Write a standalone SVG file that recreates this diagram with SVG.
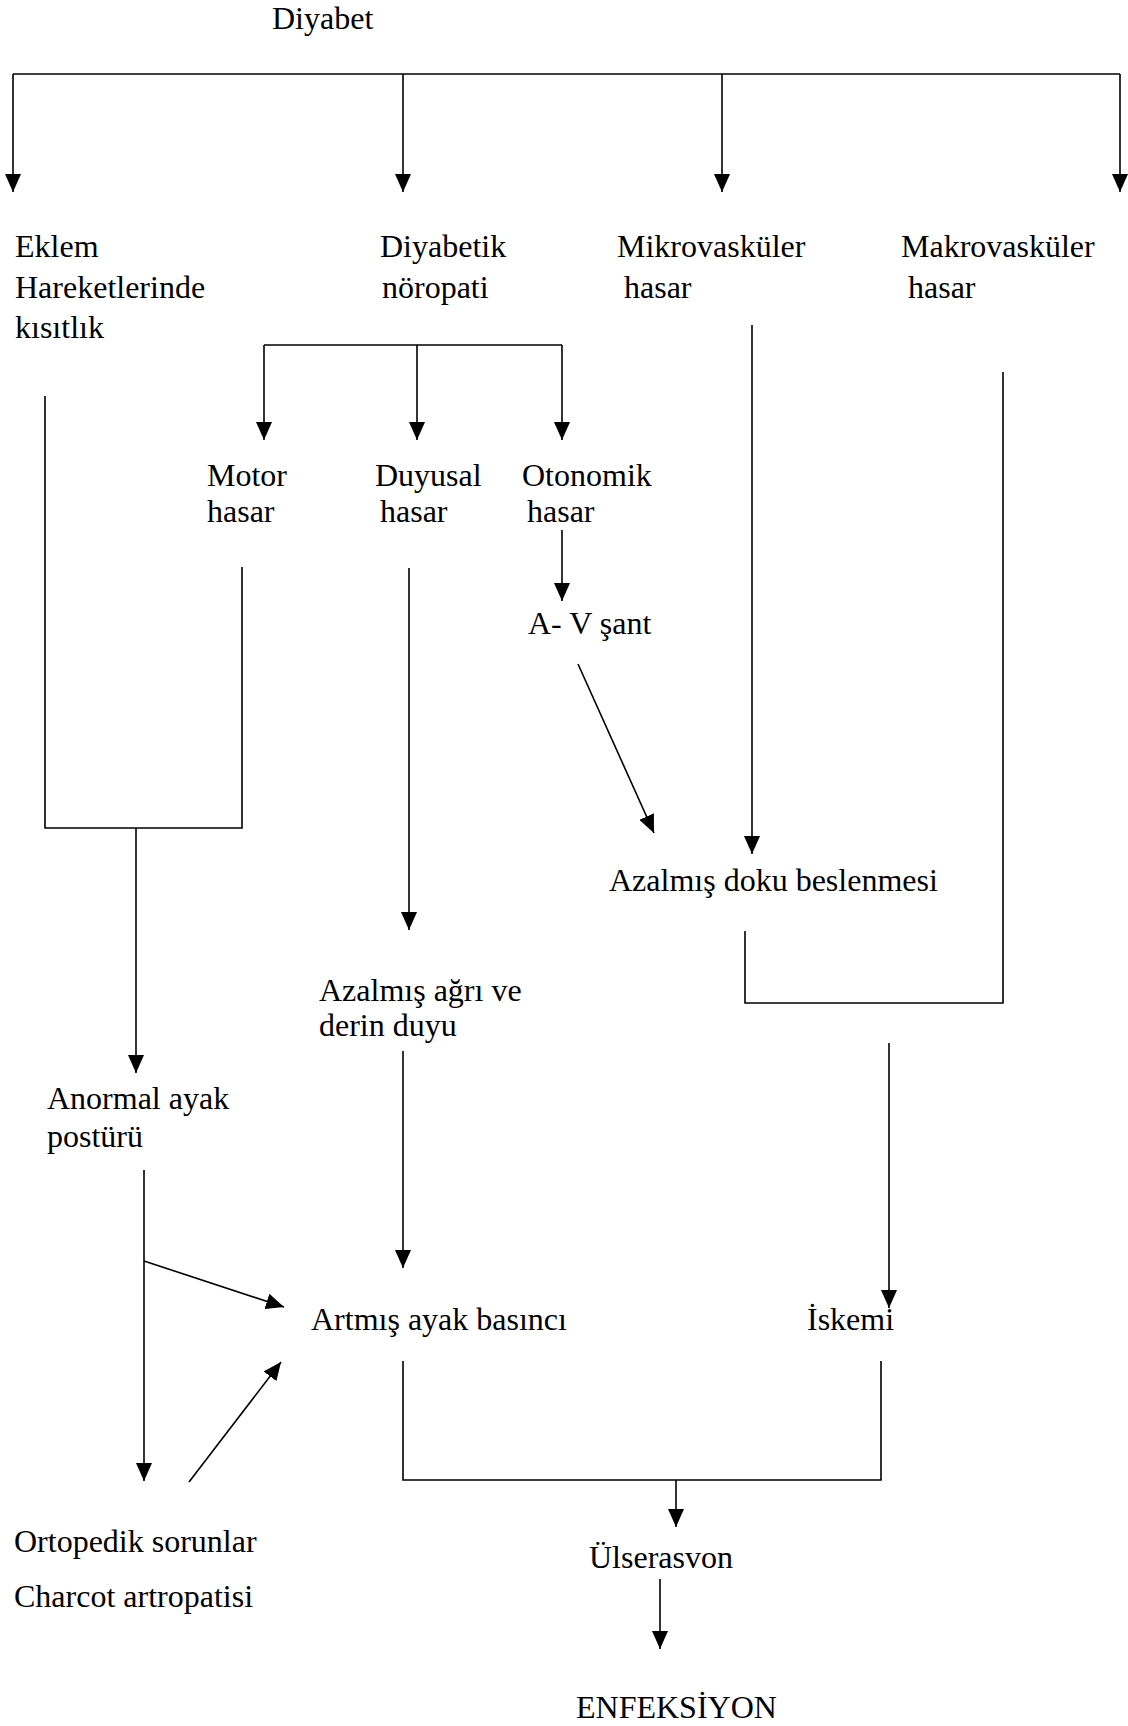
<svg xmlns="http://www.w3.org/2000/svg" width="1128" height="1726" viewBox="0 0 1128 1726">
<style>
text{font-family:"Liberation Serif","Times New Roman",serif;font-size:32px;fill:#000}
.c line,.c polyline{stroke:#000;stroke-width:1.6;fill:none}
</style>
<defs>
<marker id="ah" markerUnits="userSpaceOnUse" markerWidth="18" markerHeight="16" refX="18" refY="8" orient="auto">
<path d="M0,0 L18,8 L0,16 z" fill="#000"/>
</marker>
</defs>
<rect width="1128" height="1726" fill="#fff"/>
<g class="c" id="connectors">
<line x1="13" y1="74" x2="1120" y2="74"/>
<line x1="13" y1="74" x2="13" y2="192" marker-end="url(#ah)"/>
<line x1="403" y1="74" x2="403" y2="192" marker-end="url(#ah)"/>
<line x1="722" y1="74" x2="722" y2="192" marker-end="url(#ah)"/>
<line x1="1120" y1="74" x2="1120" y2="192" marker-end="url(#ah)"/>
<line x1="264" y1="345" x2="562" y2="345"/>
<line x1="264" y1="345" x2="264" y2="440" marker-end="url(#ah)"/>
<line x1="417" y1="345" x2="417" y2="440" marker-end="url(#ah)"/>
<line x1="562" y1="345" x2="562" y2="440" marker-end="url(#ah)"/>
<line x1="562" y1="530" x2="562" y2="601" marker-end="url(#ah)"/>
<line x1="578" y1="664" x2="654" y2="833" marker-end="url(#ah)"/>
<line x1="752" y1="325" x2="752" y2="854" marker-end="url(#ah)"/>
<line x1="409" y1="568" x2="409" y2="930" marker-end="url(#ah)"/>
<polyline points="45,396 45,828 242,828 242,567"/>
<line x1="136" y1="828" x2="136" y2="1073" marker-end="url(#ah)"/>
<polyline points="745,931 745,1003 1003,1003 1003,372"/>
<line x1="889" y1="1043" x2="889" y2="1308" marker-end="url(#ah)"/>
<line x1="403" y1="1051" x2="403" y2="1268" marker-end="url(#ah)"/>
<line x1="144" y1="1170" x2="144" y2="1481" marker-end="url(#ah)"/>
<line x1="144" y1="1261" x2="284" y2="1307" marker-end="url(#ah)"/>
<line x1="189" y1="1482" x2="281" y2="1362" marker-end="url(#ah)"/>
<polyline points="403,1361 403,1480 881,1480 881,1361"/>
<line x1="676" y1="1480" x2="676" y2="1527" marker-end="url(#ah)"/>
<line x1="660" y1="1579" x2="660" y2="1649" marker-end="url(#ah)"/>
</g>
<g id="n-diyabet"><text x="272" y="29">Diyabet</text></g>
<g id="n-eklem"><text x="15" y="257">Eklem</text><text x="15" y="298">Hareketlerinde</text><text x="15" y="338">kısıtlık</text></g>
<g id="n-noropati"><text x="380" y="257">Diyabetik</text><text x="382" y="298">nöropati</text></g>
<g id="n-mikro"><text x="617" y="257">Mikrovasküler</text><text x="624" y="298">hasar</text></g>
<g id="n-makro"><text x="901" y="257">Makrovasküler</text><text x="908" y="298">hasar</text></g>
<g id="n-motor"><text x="207" y="486">Motor</text><text x="207" y="522">hasar</text></g>
<g id="n-duyusal"><text x="375" y="486">Duyusal</text><text x="380" y="522">hasar</text></g>
<g id="n-otonomik"><text x="522" y="486">Otonomik</text><text x="527" y="522">hasar</text></g>
<g id="n-avsant"><text x="528" y="634">A- V şant</text></g>
<g id="n-doku"><text x="609" y="891">Azalmış doku beslenmesi</text></g>
<g id="n-agri"><text x="319" y="1001">Azalmış ağrı ve</text><text x="319" y="1036">derin duyu</text></g>
<g id="n-anormal"><text x="47" y="1109">Anormal ayak</text><text x="47" y="1147">postürü</text></g>
<g id="n-artmis"><text x="311" y="1330">Artmış ayak basıncı</text></g>
<g id="n-iskemi"><text x="807" y="1330">İskemi</text></g>
<g id="n-ortopedik"><text x="14" y="1552">Ortopedik sorunlar</text><text x="14" y="1607">Charcot artropatisi</text></g>
<g id="n-ulser"><text x="589" y="1568">Ülserasvon</text></g>
<g id="n-enf"><text x="576" y="1718">ENFEKSİYON</text></g>
</svg>
